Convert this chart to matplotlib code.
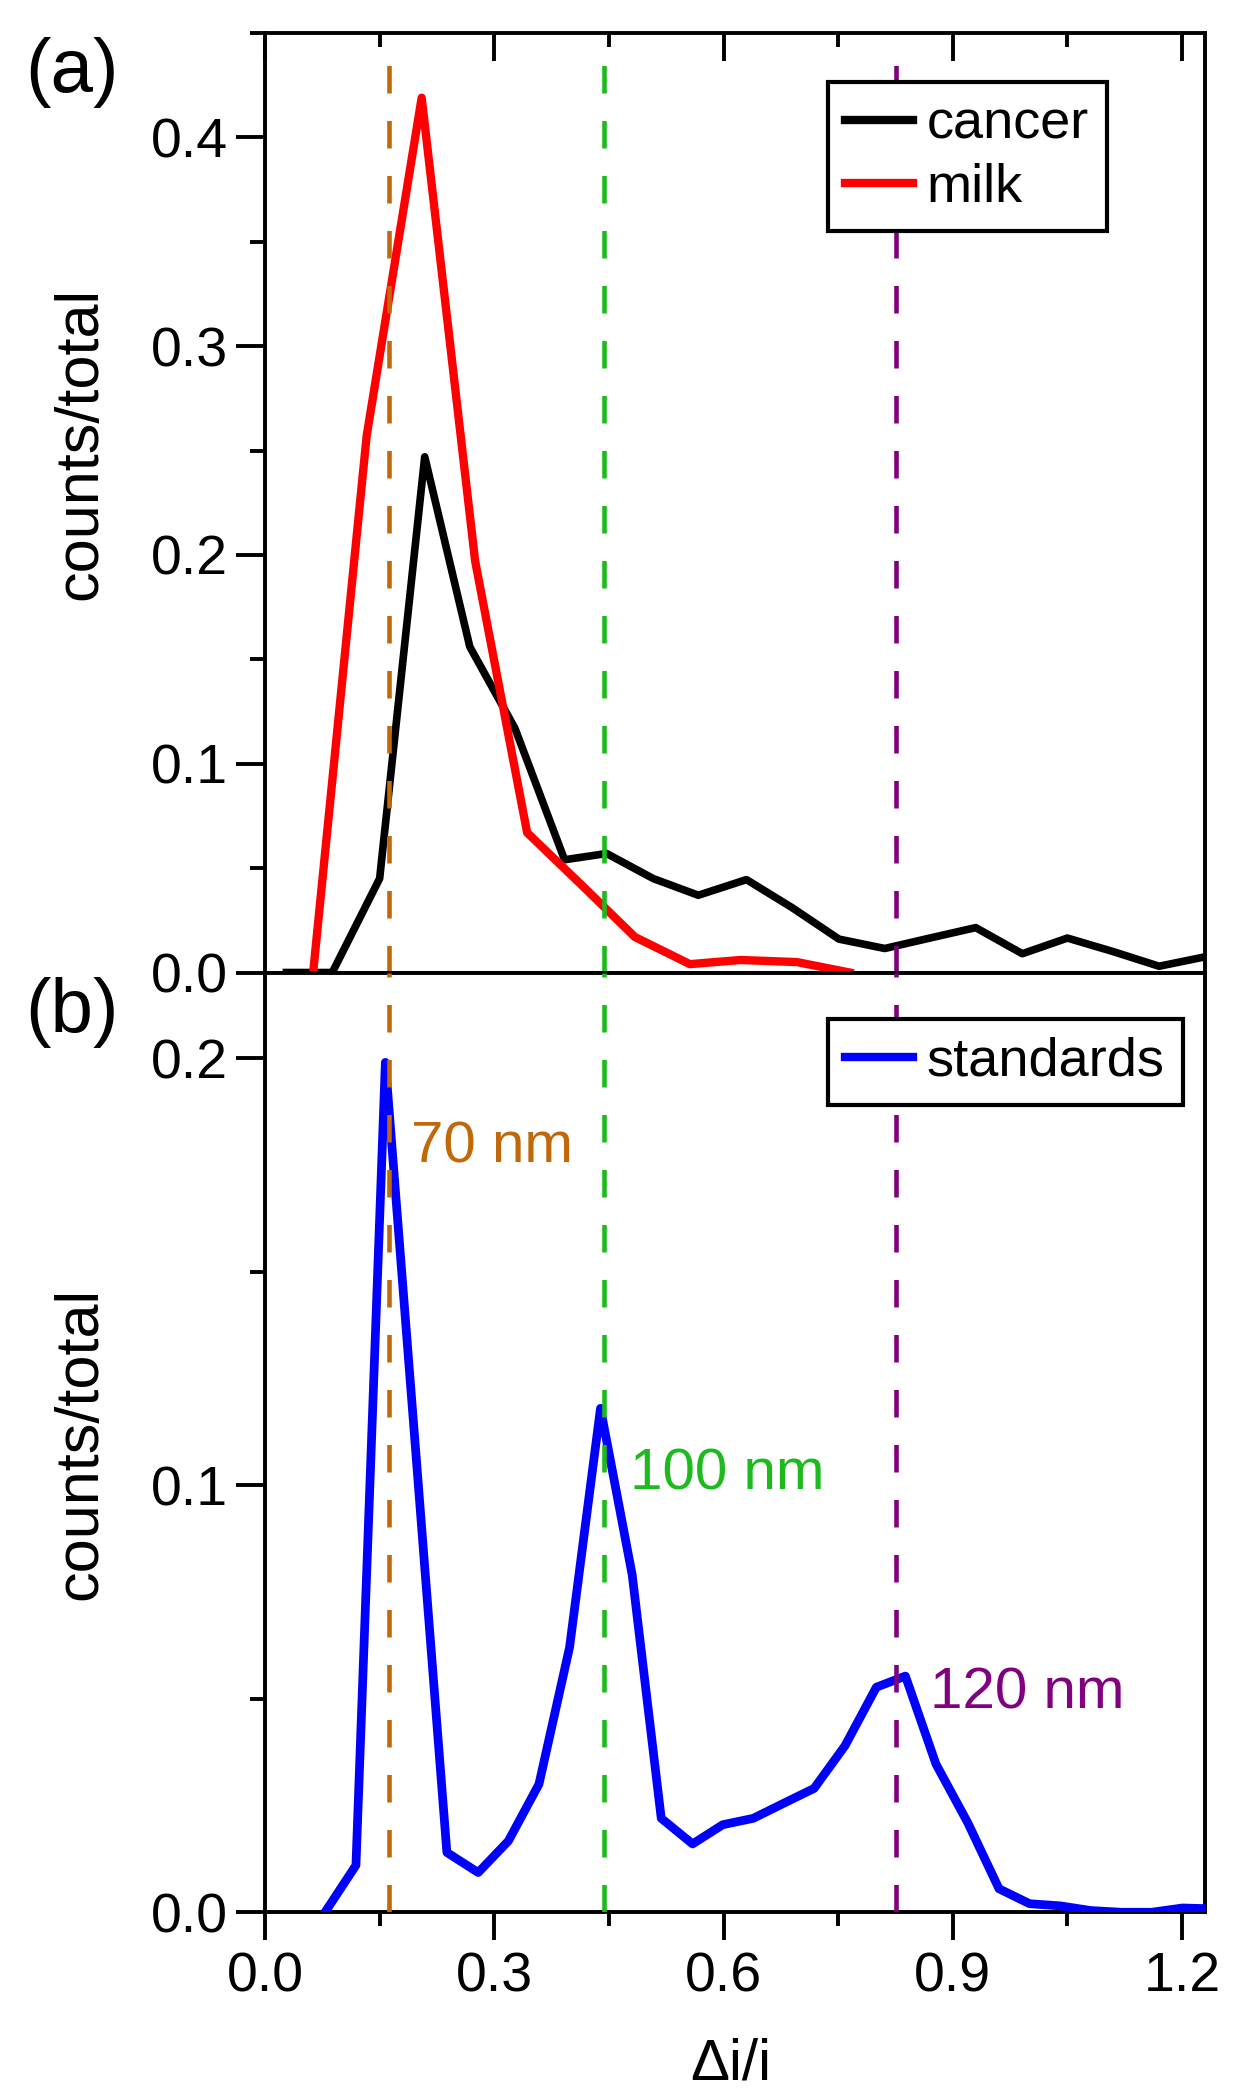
import numpy as np
import matplotlib
matplotlib.use("Agg")
import matplotlib.pyplot as plt
from matplotlib.ticker import MultipleLocator, FormatStrFormatter

plt.rcParams['font.family'] = ['Liberation Sans', 'DejaVu Sans']

# panel (a): histograms
cancer_x = [0.028, 0.088, 0.150, 0.209, 0.268, 0.327, 0.392, 0.447, 0.508, 0.567,
            0.630, 0.690, 0.751, 0.811, 0.870, 0.930, 0.991, 1.050, 1.110, 1.170, 1.230]
cancer_y = [0.0, 0.0, 0.045, 0.247, 0.156, 0.117, 0.054, 0.057, 0.045, 0.037,
            0.0445, 0.031, 0.016, 0.0115, 0.0165, 0.0215, 0.009, 0.0165, 0.010, 0.003, 0.0075]

milk_x = [0.063, 0.133, 0.205, 0.275, 0.343, 0.414, 0.484, 0.556, 0.622, 0.696, 0.765]
milk_y = [0.0, 0.257, 0.419, 0.197, 0.067, 0.042, 0.017, 0.004, 0.006, 0.005, 0.0]

# panel (b): standards
std_x = [0.0785, 0.119, 0.1575, 0.1985, 0.238, 0.279, 0.3185, 0.3585, 0.3985, 0.439,
         0.4805, 0.5185, 0.5595, 0.599, 0.639, 0.6785, 0.7185, 0.759, 0.8, 0.838,
         0.878, 0.9195, 0.9605, 1.0005, 1.0405, 1.0805, 1.1205, 1.1605, 1.2005, 1.2405]
std_y = [0.0, 0.011, 0.199, 0.105, 0.014, 0.0093, 0.0167, 0.030, 0.062, 0.118,
         0.079, 0.022, 0.016, 0.0205, 0.022, 0.0255, 0.029, 0.039, 0.0527, 0.0553,
         0.0347, 0.021, 0.0055, 0.002, 0.0015, 0.0004, 0.0, 0.0, 0.001, 0.0008]

# reference positions
ref_x = [0.162, 0.443, 0.826]
ref_colors = ['#C0680A', '#1CBA1C', '#800080']
ref_labels = ['70 nm', '100 nm', '120 nm']
ref_label_xy = [(0.191, 0.1755), (0.478, 0.0991), (0.870, 0.0476)]

fig = plt.figure(figsize=(12.43, 21), dpi=100)
ax1 = fig.add_axes([0.2132, 0.5369, 0.7562, 0.4474])
ax2 = fig.add_axes([0.2132, 0.0894, 0.7562, 0.4474])

tick_fs = 40
for ax in (ax1, ax2):
    for s in ax.spines.values():
        s.set_linewidth(2.8)
    ax.set_xlim(0, 1.23)
    ax.xaxis.set_major_locator(MultipleLocator(0.3))
    ax.xaxis.set_minor_locator(MultipleLocator(0.15))
    ax.yaxis.set_minor_locator(MultipleLocator(0.05))
    ax.yaxis.set_major_locator(MultipleLocator(0.1))
    ax.xaxis.set_major_formatter(FormatStrFormatter('%.1f'))
    ax.yaxis.set_major_formatter(FormatStrFormatter('%.1f'))
    ax.tick_params(axis='y', which='major', direction='out', length=21, width=2.8,
                   labelsize=tick_fs, pad=6)
    ax.tick_params(axis='y', which='minor', direction='out', length=10.5, width=2.8)

ax1.set_ylim(0, 0.45)
ax2.set_ylim(0, 0.22)

# top panel: ticks on top, inward
ax1.tick_params(axis='x', which='both', bottom=False, labelbottom=False,
                top=True, labeltop=False, direction='in', width=2.8)
ax1.tick_params(axis='x', which='major', length=20)
ax1.tick_params(axis='x', which='minor', length=10)
# bottom panel
ax2.tick_params(axis='x', which='both', direction='out', width=2.8, top=False)
ax2.tick_params(axis='x', which='major', length=20, labelsize=tick_fs, pad=8)
ax2.tick_params(axis='x', which='minor', length=10)

ax1.plot(cancer_x, cancer_y, color='black', lw=5.5, label='cancer', zorder=3)
ax1.plot(milk_x, milk_y, color='#FF0000', lw=6.0, label='milk', zorder=3)
ax2.plot(std_x, std_y, color='#0000FF', lw=6.3, label='standards', zorder=3)

for xv, c in zip(ref_x, ref_colors):
    ax1.axvline(xv, ymin=0, ymax=0.969, color=c, lw=3.3, dashes=(6, 6), zorder=4)
    ax2.axvline(xv, ymin=0, ymax=1, color=c, lw=3.3, dashes=(6, 6), zorder=4)

for (tx, ty), lab, c in zip(ref_label_xy, ref_labels, ref_colors):
    ax2.text(tx, ty, lab, color=c, fontsize=42, ha='left', va='baseline', zorder=5)

leg_kw = dict(loc='upper left', fontsize=39, frameon=True, fancybox=False,
              edgecolor='black', framealpha=1, handlelength=1.25, handletextpad=0.25,
              borderpad=0.33, borderaxespad=0)
lg1 = ax1.legend(bbox_to_anchor=(0.5985, 0.948), labelspacing=0.25, **leg_kw)
lg2 = ax2.legend(bbox_to_anchor=(0.5985, 0.951), **leg_kw)
for lg in (lg1, lg2):
    lg.get_frame().set_linewidth(3.0)
    lg.set_zorder(10)
    for h in lg.get_lines():
        h.set_linewidth(6.0)

fig.text(81 / 1243, 1 - 443 / 2100, 'counts/total', rotation=90, fontsize=44,
         ha='center', va='center')
fig.text(81 / 1243, 1 - 1443 / 2100, 'counts/total', rotation=90, fontsize=44,
         ha='center', va='center')
fig.text(731 / 1243, 1 - 2080 / 2100, '\u0394i/i', fontsize=42, ha='center', va='baseline')

fig.text(25 / 1243, 1 - 92 / 2100, '(a)', fontsize=55, ha='left', va='baseline')
fig.text(25 / 1243, 1 - 1032 / 2100, '(b)', fontsize=55, ha='left', va='baseline')

fig.savefig('out.png', dpi=100)
